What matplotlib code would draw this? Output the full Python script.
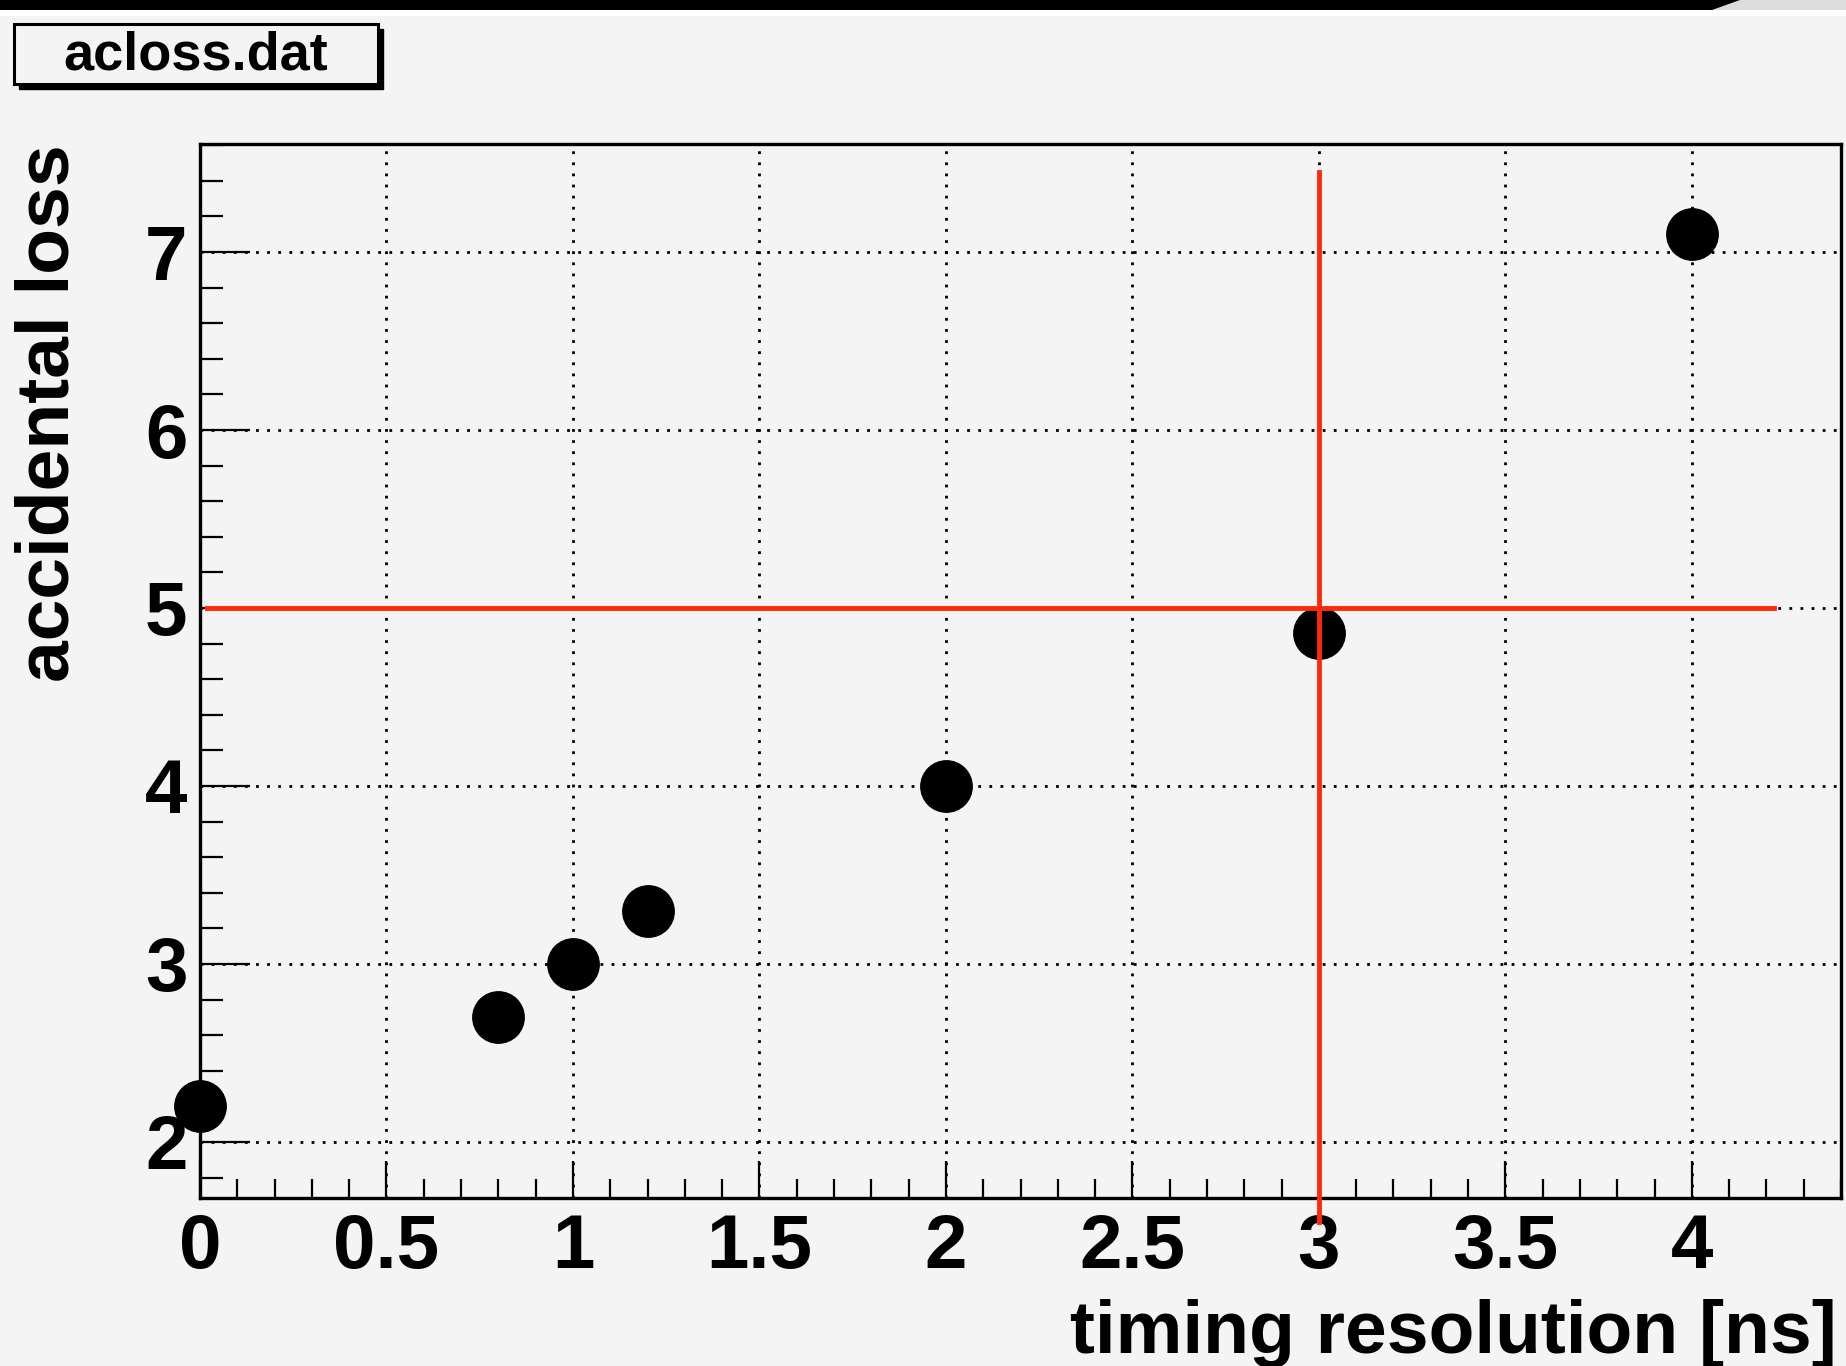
import matplotlib
matplotlib.use('Agg')
import matplotlib.pyplot as plt
from matplotlib.patches import Rectangle, Polygon
from matplotlib.ticker import MultipleLocator, FuncFormatter

# data
res_ns = [0.0, 0.8, 1.0, 1.2, 2.0, 3.0, 4.0]
acc_loss = [2.2, 2.7, 3.0, 3.3, 4.0, 4.86, 7.1]

# red marker lines
hline_y = 5.0
hline_x = [0.02, 4.22]
vline_x = 3.0
vline_y = [1.55, 7.45]

title = "acloss.dat"
xlab = "timing resolution [ns]"
ylab = "accidental loss"

bg = '#f4f4f4'
red = '#ff2a0a'
W, H = 1846, 1366

plt.rcParams['font.family'] = ['Liberation Sans', 'DejaVu Sans']
plt.rcParams['font.weight'] = 'bold'

fig = plt.figure(figsize=(W / 100, H / 100), dpi=100, facecolor=bg)

# cut-off black band at the very top
band = 10
fig.patches.append(Rectangle((0, 1 - band / H), 1, band / H, transform=fig.transFigure,
                             facecolor='#dcdcdc', edgecolor='none'))
fig.patches.append(Polygon([(0, 1 - band / H), (1712 / W, 1 - band / H), (1740 / W, 1), (0, 1)],
                           closed=True, transform=fig.transFigure,
                           facecolor='black', edgecolor='none'))
fig.patches.append(Rectangle((0, 1 - (band + 6) / H), 1, 6 / H, transform=fig.transFigure,
                             facecolor='white', edgecolor='none'))

# title box with shadow
bx0, bx1, by0, by1 = 14, 378, 24, 84
fig.patches.append(Rectangle(((bx0 + 5) / W, 1 - (by1 + 5) / H), (bx1 - bx0) / W, (by1 - by0) / H,
                             transform=fig.transFigure, facecolor='black', edgecolor='black', lw=1))
fig.patches.append(Rectangle((bx0 / W, 1 - by1 / H), (bx1 - bx0) / W, (by1 - by0) / H,
                             transform=fig.transFigure, facecolor=bg, edgecolor='black', lw=2.2))
fig.text((bx0 + bx1) / 2 / W, 1 - 56 / H, title, ha='center', va='center',
         fontsize=39, fontweight='bold')

left, right, top, bottom = 200, 1841, 144, 1198
ax = fig.add_axes([left / W, 1 - bottom / H, (right - left) / W, (bottom - top) / H])
ax.set_facecolor(bg)

ax.plot(res_ns, acc_loss, 'o', color='black', markersize=37, zorder=3, clip_on=False)
ax.plot(hline_x, [hline_y, hline_y], color=red, lw=3.5, zorder=4, clip_on=False)
ax.plot([vline_x, vline_x], vline_y, color=red, lw=3.5, zorder=4, clip_on=False)

ax.set_xlim(0, 4.4)
ax.set_ylim(1.685, 7.607)

ax.xaxis.set_major_locator(MultipleLocator(0.5))
ax.xaxis.set_minor_locator(MultipleLocator(0.1))
ax.yaxis.set_major_locator(MultipleLocator(1))
ax.yaxis.set_minor_locator(MultipleLocator(0.2))
ax.xaxis.set_major_formatter(FuncFormatter(lambda v, p: f"{v:g}"))

ax.grid(True, which='major', color='black', linestyle=(0, (1, 3)), lw=2)
ax.set_axisbelow(True)

for s in ax.spines.values():
    s.set_linewidth(2.4)

ax.tick_params(axis='both', which='both', direction='in', top=False, right=False,
               width=1.6, labelsize=55)
ax.tick_params(axis='x', which='major', length=26.5, pad=11)
ax.tick_params(axis='x', which='minor', length=14)
ax.tick_params(axis='y', which='major', length=36, pad=9)
ax.tick_params(axis='y', which='minor', length=16.5)
for lab in ax.get_xticklabels() + ax.get_yticklabels():
    lab.set_fontweight('bold')

ax.set_xlabel(xlab, fontsize=54, fontweight='bold', loc='right')
ax.xaxis.set_label_coords(1.0 - 4 / (right - left), -(1333 - bottom) / (bottom - top))
ax.xaxis.label.set_va('center')
ax.set_ylabel(ylab, fontsize=54, fontweight='bold', loc='top')
ax.yaxis.set_label_coords(-(left - 49) / (right - left), 1.0)
ax.yaxis.label.set_va('center')

fig.savefig('out.png', dpi=100, facecolor=bg)
